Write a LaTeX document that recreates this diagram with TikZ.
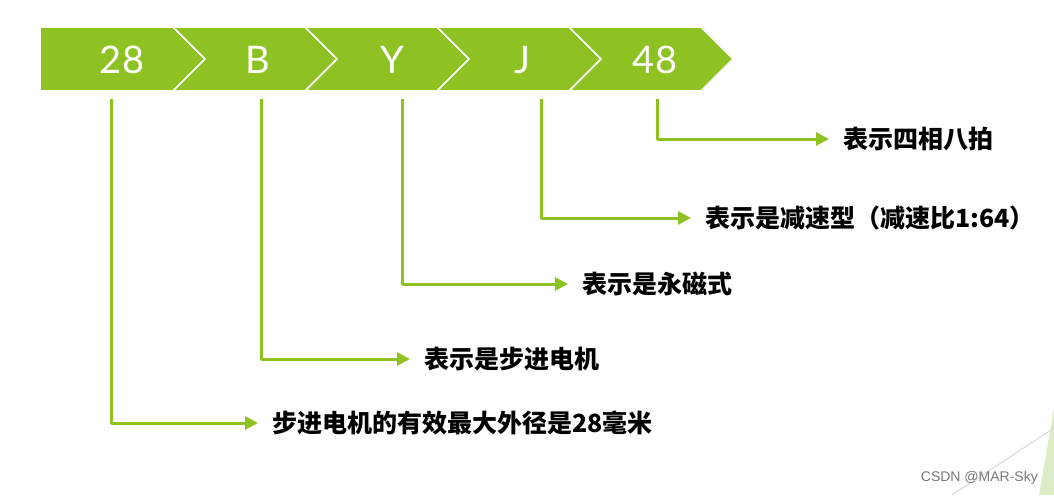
\documentclass[tikz,border=0pt]{standalone}
\usepackage{fontspec}
\setmainfont{Lato}
\newfontfamily\cjk{Noto Sans CJK SC}
\newfontfamily\wm{Liberation Sans}
\usetikzlibrary{arrows.meta}
\definecolor{bargreen}{RGB}{141,194,34}
\definecolor{paleg}{RGB}{220,236,196}
\definecolor{wmgrey}{RGB}{120,120,120}
\tikzset{
  chev/.style={fill=bargreen, draw=white, line width=1.6pt, line join=miter},
  segtext/.style={text=white, font=\fontsize{38}{38}\selectfont, inner sep=0pt},
  lbl/.style={anchor=west, inner sep=0pt, font=\cjk\bfseries\fontsize{25}{25}\selectfont},
  conn/.style={draw=bargreen, line width=3pt, line join=round,
    -{Triangle[length=13pt,width=13pt]}, shorten >=14pt}
}
\begin{document}
\begin{tikzpicture}[x=1pt,y=-1pt]
\useasboundingbox (0,0) rectangle (1054,495);
% bottom right decoration
\fill[paleg] (1054,408) -- (1054,495) -- (1039,495) -- cycle;
\draw[black!18, line width=0.8pt] (1054,428) -- (952,495);
\node[anchor=south east, inner sep=0pt, text=wmgrey, font=\wm\fontsize{14}{14}\selectfont] (wm) at (1038,485) {CSDN @MAR-Sky};
% chevron bar
\path[chev] (40,27) -- (173,27) -- (205,59) -- (173,91) -- (40,91) -- cycle;
\path[chev] (173,27) -- (305,27) -- (337,59) -- (305,91) -- (173,91) -- (205,59) -- cycle;
\path[chev] (305,27) -- (437,27) -- (469,59) -- (437,91) -- (305,91) -- (337,59) -- cycle;
\path[chev] (437,27) -- (569,27) -- (601,59) -- (569,91) -- (437,91) -- (469,59) -- cycle;
\path[chev] (569,27) -- (701,27) -- (733,59) -- (701,91) -- (569,91) -- (601,59) -- cycle;
\node[segtext] (s1) at (122,60) {28};
\node[segtext] (s2) at (258,60) {B};
\node[segtext] (s3) at (392,60) {Y};
\node[segtext] (s4) at (523,60) {J};
\node[segtext] (s5) at (655,60) {48};
% start points
\coordinate (c1) at (111,99);
\coordinate (c2) at (261,99);
\coordinate (c3) at (402,99);
\coordinate (c4) at (541,99);
\coordinate (c5) at (657,99);
% labels
\node[lbl] (l5) at (843,139) {表示四相八拍};
\node[lbl] (l4) at (705,218) {表示是减速型（减速比1:64）};
\node[lbl] (l3) at (582,284) {表示是永磁式};
\node[lbl] (l2) at (424,359) {表示是步进电机};
\node[lbl] (l1) at (272,423) {步进电机的有效最大外径是28毫米};
% connectors
\draw[conn] (c5) |- (l5.west);
\draw[conn] (c4) |- (l4.west);
\draw[conn] (c3) |- (l3.west);
\draw[conn] (c2) |- (l2.west);
\draw[conn] (c1) |- (l1.west);
\end{tikzpicture}
\end{document}
